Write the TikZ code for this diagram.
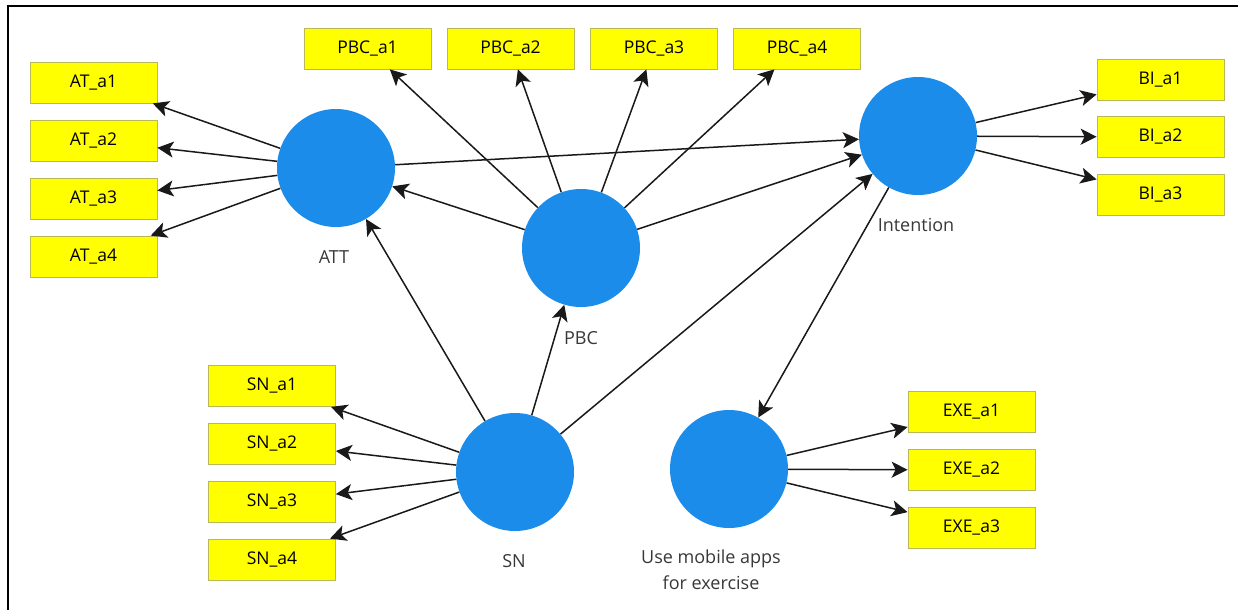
\documentclass[tikz,border=0pt]{standalone}
\usepackage{fontspec}
\setmainfont{Open Sans}
\usetikzlibrary{arrows.meta}
\definecolor{lvblue}{RGB}{28,140,235}
\definecolor{mvyellow}{RGB}{255,255,0}
\definecolor{mvborder}{RGB}{185,185,90}
\begin{document}
\begin{tikzpicture}[x=1pt,y=-1pt,
  indicator/.style={draw=mvborder, line width=0.8pt, fill=mvyellow, minimum width=127pt, minimum height=41pt, inner sep=0pt, font=\fontsize{17.5}{20}\selectfont},
  latent/.style={circle, fill=lvblue, minimum size=118pt, inner sep=0pt},
  lvlabel/.style={font=\fontsize{18}{26}\selectfont, text=black!78, align=center},
  tipshape/.tip={Stealth[length=16pt,width=16pt,inset=4pt]},
  pathline/.style={draw=black!90, line width=1.5pt, -tipshape},
  frameline/.style={line width=2pt, draw=black}
]
\useasboundingbox (0,0) rectangle (1238,610);
\coordinate (fbl) at (7.5,610);
\coordinate (ftl) at (7.5,6);
\coordinate (ftr) at (1238,6);
\draw[frameline] (fbl) -- (ftl) -- (ftr);

% latent variables
\node[latent] (att) at (336,168) {};
\node[latent] (pbc) at (581,248) {};
\node[latent] (int) at (918,136) {};
\node[latent] (sn)  at (515,472) {};
\node[latent] (use) at (729,469) {};

\node[lvlabel] (attlab) at (334,257) {ATT};
\node[lvlabel] (pbclab) at (581,338) {PBC};
\node[lvlabel] (intlab) at (916,225) {Intention};
\node[lvlabel] (snlab)  at (514,561) {SN};
\node[lvlabel] (uselab) at (711,570) {Use mobile apps\\for exercise};

% indicators
\node[indicator] (ata1) at (93.5,82.5) {AT\_a1};
\node[indicator] (ata2) at (93.5,140.5) {AT\_a2};
\node[indicator] (ata3) at (93.5,198.5) {AT\_a3};
\node[indicator] (ata4) at (93.5,256.5) {AT\_a4};

\node[indicator] (pbca1) at (367.5,48.5) {PBC\_a1};
\node[indicator] (pbca2) at (510.5,48.5) {PBC\_a2};
\node[indicator] (pbca3) at (654,48.5) {PBC\_a3};
\node[indicator] (pbca4) at (797,48.5) {PBC\_a4};

\node[indicator] (bia1) at (1160.5,79.5) {BI\_a1};
\node[indicator] (bia2) at (1160.5,137) {BI\_a2};
\node[indicator] (bia3) at (1160.5,195) {BI\_a3};

\node[indicator] (sna1) at (272,386) {SN\_a1};
\node[indicator] (sna2) at (272,443.5) {SN\_a2};
\node[indicator] (sna3) at (272,502) {SN\_a3};
\node[indicator] (sna4) at (272,559.5) {SN\_a4};

\node[indicator] (exea1) at (971.5,412) {EXE\_a1};
\node[indicator] (exea2) at (971.5,470) {EXE\_a2};
\node[indicator] (exea3) at (971.5,527.5) {EXE\_a3};

% paths
\foreach \t in {ata1,ata2,ata3,ata4} \draw[pathline] (att) -- (\t);
\foreach \t in {pbca1,pbca2,pbca3,pbca4} \draw[pathline] (pbc) -- (\t);
\foreach \t in {bia1,bia2,bia3} \draw[pathline] (int) -- (\t);
\foreach \t in {sna1,sna2,sna3,sna4} \draw[pathline] (sn) -- (\t);
\foreach \t in {exea1,exea2,exea3} \draw[pathline] (use) -- (\t);

\draw[pathline] (pbc) -- (att);
\draw[pathline] (att) -- (int);
\draw[pathline] (pbc) -- (int);
\draw[pathline] (sn) -- (att);
\draw[pathline] (sn) -- (pbc);
\draw[pathline] (sn) -- (int);
\draw[pathline] (int) -- (use);
\end{tikzpicture}
\end{document}
